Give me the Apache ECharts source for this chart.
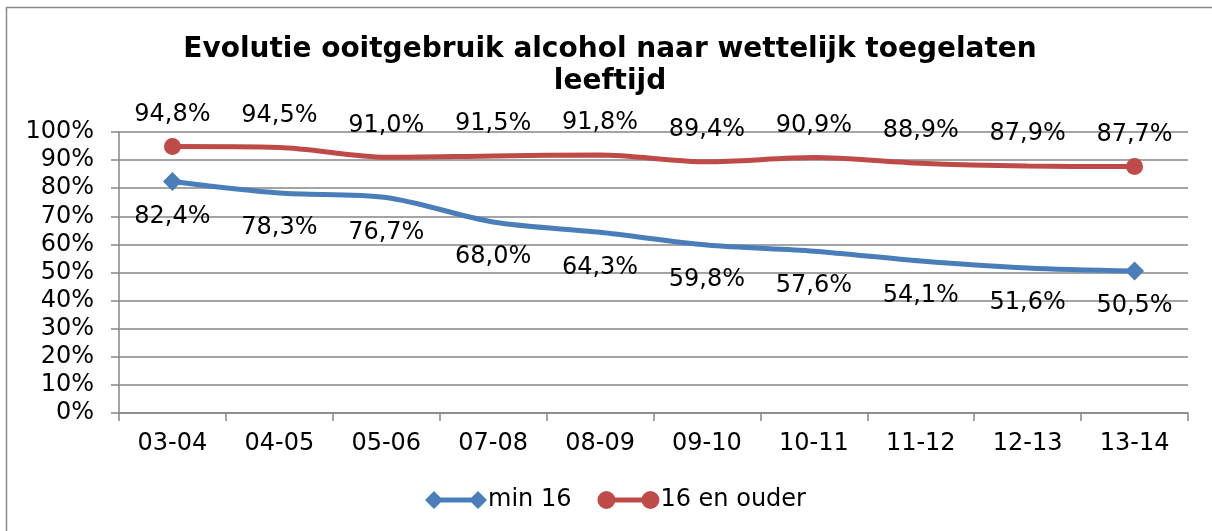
<!DOCTYPE html>
<html><head><meta charset="utf-8">
<script src="https://cdn.jsdelivr.net/npm/echarts@6/dist/echarts.min.js"></script>
<style>html,body{margin:0;padding:0;background:#fff}#c{width:1212px;height:531px}</style>
</head><body><div id="c"></div>
<script>
const categories = ['03-04','04-05','05-06','07-08','08-09','09-10','10-11','11-12','12-13','13-14'];
const min16 = [82.4,78.3,76.7,68.0,64.3,59.8,57.6,54.1,51.6,50.5];
const ouder16 = [94.8,94.5,91.0,91.5,91.8,89.4,90.9,88.9,87.9,87.7];
const seriesNames = ['min 16','16 en ouder'];
const yTicks = [0,10,20,30,40,50,60,70,80,90,100];

const FONT = 'DejaVu Sans';
const fmt = v => v.toFixed(1).replace('.', ',') + '%';
const last = categories.length - 1;
const isEnd = i => i === 0 || i === last;
// build data items: markers only on first and last point, label distance compensated for marker size
const items = (arr, size, dist) => arr.map((v, i) => ({
  value: v,
  symbolSize: isEnd(i) ? size : 0,
  label: {distance: isEnd(i) ? dist - size / 2 : dist}
}));

const chart = echarts.init(document.getElementById('c'), null, {renderer:'canvas'});
chart.setOption({
  animation:false,
  backgroundColor:'#fff',
  graphic:[{type:'rect', shape:{x:6.5,y:7.5,width:1230,height:540}, style:{fill:'none',stroke:'#8a8a8a',lineWidth:1.5}, silent:true}],
  title:{text:'Evolutie ooitgebruik alcohol naar wettelijk toegelaten\nleeftijd', left:605, textAlign:'center', top:29,
    textStyle:{fontFamily:FONT, fontWeight:'bold', fontSize:28, color:'#000', lineHeight:32}},
  grid:{left:119, right:24, top:132, bottom:118, containLabel:false},
  xAxis:{type:'category', data:categories, boundaryGap:true,
    axisLine:{lineStyle:{color:'#868686', width:1.5}},
    axisTick:{show:true, length:8, lineStyle:{color:'#868686', width:1.5}},
    axisLabel:{fontFamily:FONT, fontSize:24, color:'#000', margin:19}},
  yAxis:{type:'value', min:0, max:100, interval:10,
    axisLine:{show:true, lineStyle:{color:'#868686', width:1.5}},
    axisTick:{show:true, length:8, lineStyle:{color:'#868686', width:1.5}},
    splitLine:{lineStyle:{color:'#868686', width:1.5}},
    axisLabel:{fontFamily:FONT, fontSize:24, color:'#000', margin:25, formatter: v => yTicks.includes(v) ? v + '%' : ''}},
  legend:{bottom:14, left:420, itemGap:26, itemWidth:62, itemHeight:18,
    textStyle:{fontFamily:FONT, fontSize:24, color:'#000', padding:[0,0,0,-4]},
    data:[
      {name:seriesNames[0], icon:'path://M0 9 L9 0 L18 9 L9 18 Z M9 6.5 L53 6.5 L53 11.5 L9 11.5 Z M44 9 L53 0 L62 9 L53 18 Z'},
      {name:seriesNames[1], icon:'path://M0 9 A9 9 0 1 1 18 9 A9 9 0 1 1 0 9 Z M9 6.5 L53 6.5 L53 11.5 L9 11.5 Z M44 9 A9 9 0 1 1 62 9 A9 9 0 1 1 44 9 Z'}
    ]},
  series:[
    {name:seriesNames[0], type:'line', data:items(min16, 19, 23), smooth:0.3, symbol:'diamond',
      showAllSymbol:true,
      lineStyle:{color:'#4A7EBB', width:5}, itemStyle:{color:'#4A7EBB'},
      label:{show:true, position:'bottom', formatter:p=>fmt(p.value), fontFamily:FONT, fontSize:24, color:'#000'}},
    {name:seriesNames[1], type:'line', data:items(ouder16, 17, 20), smooth:0.3, symbol:'circle',
      showAllSymbol:true,
      lineStyle:{color:'#BE4B48', width:5}, itemStyle:{color:'#BE4B48'},
      label:{show:true, position:'top', formatter:p=>fmt(p.value), fontFamily:FONT, fontSize:24, color:'#000'}}
  ]
});
</script></body></html>
